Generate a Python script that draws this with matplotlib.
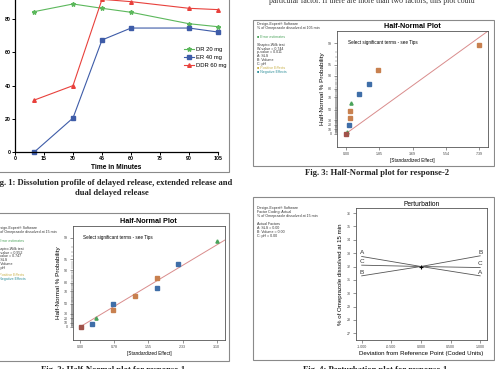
import matplotlib
matplotlib.use('Agg')
import matplotlib.pyplot as plt
from matplotlib.patches import Rectangle
from statistics import NormalDist

plt.rcParams['font.family'] = ['Liberation Sans', 'DejaVu Sans']

W, H = 495, 369

# Fig. 1 - dissolution profile
time_min = [10, 30, 45, 60, 90, 105]
dr_20 = [84.6, 89.2, 86.6, 84.2, 77.3, 75.5]
er_40 = [0.0, 20.5, 67.5, 74.7, 74.7, 72.3]
ddr_60 = [31.3, 40.0, 92.0, 90.6, 86.6, 85.8]
time_ticks = [0, 15, 30, 45, 60, 75, 90, 105]
release_ticks = [0, 20, 40, 60, 80]

# Fig. 2 - half-normal, response-1
r1_effect = [3.10, 2.23, 1.74, 1.74, 1.25, 0.755, 0.755, 0.37, 0.27, 0.015]
r1_prob = [98.7, 93.0, 84.1, 74.2, 62.7, 49.7, 36.9, 20.5, 6.9, 0.0]
r1_kind = ['err', 'neg', 'pos', 'neg', 'pos', 'neg', 'pos', 'err', 'neg', 'ref']
r1_ticks = [0.00, 0.78, 1.55, 2.33, 3.10]
r1_slope = 0.765

# Fig. 3 - half-normal, response-2
r2_effect = [7.39, 1.75, 1.25, 0.74, 0.28, 0.22, 0.22, 0.19, 0.03, 0.0]
r2_prob = [98.8, 92.9, 84.4, 73.7, 61.0, 48.9, 35.0, 20.5, 4.0, 0.0]
r2_kind = ['pos', 'pos', 'neg', 'neg', 'err', 'pos', 'pos', 'neg', 'err', 'ref']
r2_ticks = [0.00, 1.85, 3.69, 5.54, 7.39]
r2_slope = 0.371

prob_ticks = [0, 10, 20, 30, 50, 70, 80, 90, 95, 99]

# Fig. 4 - perturbation
dev = [-1.0, 0.0, 1.0]
pert_A = [32.75, 32.0, 31.3]
pert_B = [31.3, 32.0, 32.8]
pert_C = [32.1, 32.0, 31.92]
pert_ticks = [27, 28, 29, 30, 31, 32, 33, 34, 35, 36]
dev_ticks = [-1.0, -0.5, 0.0, 0.5, 1.0]

kind_style = {
    'pos': dict(marker='s', color='#c8804f'),
    'neg': dict(marker='s', color='#3f6ea8'),
    'err': dict(marker='^', color='#4aa35a'),
    'ref': dict(marker='s', color='#a0524a'),
}


def hn(p):
    # half-normal probability scale
    return NormalDist().inv_cdf(0.5 + p / 200.0)


fig = plt.figure(figsize=(W / 100, H / 100), dpi=100)
fig.patch.set_facecolor('white')


def box(l, t, r, b):
    return [l / W, 1 - b / H, (r - l) / W, (b - t) / H]


def put(x, y, s, **kw):
    kw.setdefault('va', 'center')
    fig.text(x / W, 1 - y / H, s, **kw)


def frame(l, t, r, b, ec='#8a8a8a'):
    fig.add_artist(Rectangle((l / W, 1 - b / H), (r - l) / W, (b - t) / H,
                             transform=fig.transFigure, fill=False, ec=ec, lw=0.8))


cap = dict(family=['Liberation Serif', 'DejaVu Serif'], weight='bold', fontsize=6.2,
           color='#222222', ha='center')

# ---------------- Fig. 1 ----------------
frame(-5, -5, 229, 172)
ax1 = fig.add_axes(box(15, 0, 218, 152))
ax1.plot(time_min, dr_20, color='#5cb85c', marker='*', ms=3.2, lw=0.8, label='DR 20 mg', clip_on=False)
ax1.plot(time_min, er_40, color='#3e5ca8', marker='s', ms=2.4, lw=0.8, label='ER 40 mg', clip_on=False)
ax1.plot(time_min, ddr_60, color='#e8413c', marker='^', ms=2.6, lw=0.8, label='DDR 60 mg', clip_on=False)
ax1.set_xlim(0, 105)
ax1.set_ylim(0, 91.6)
ax1.set_xticks(time_ticks)
ax1.set_yticks(release_ticks)
for s in ['top', 'right']:
    ax1.spines[s].set_visible(False)
for s in ['left', 'bottom']:
    ax1.spines[s].set_linewidth(0.9)
ax1.tick_params(labelsize=3.8, length=2, width=0.7, pad=1)
for t in ax1.get_xticklabels() + ax1.get_yticklabels():
    t.set_fontweight('bold')
ax1.set_xlabel('Time in Minutes', fontsize=4.8, fontweight='bold', labelpad=2)
ax1.legend(loc='upper left', bbox_to_anchor=(181 / W, 1 - 44 / H), bbox_transform=fig.transFigure,
           frameon=False, fontsize=4.2, handlelength=1.8, handletextpad=0.3, labelspacing=0.5,
           borderpad=0)
put(-1, 70, '% Drug Release', rotation=90, fontsize=4.5, fontweight='bold', ha='center')
put(112, 182.7, 'Fig. 1: Dissolution profile of delayed release, extended release and', **cap)
put(112, 192.7, 'dual delayed release', **cap)

# top page text
put(372, 3, 'particular factor. If there are more than two factors, this plot could',
    family=['Liberation Serif', 'DejaVu Serif'], fontsize=5.6, ha='center', va='baseline',
    color='#333333')


def half_normal(axbox, effect, prob, kind, ticks, slope, xlim):
    ax = fig.add_axes(axbox)
    zmin, zmax = -0.38, 2.93
    ax.set_xlim(*xlim)
    ax.set_ylim(zmin, zmax)
    ax.plot([0, xlim[1]], [0, slope * xlim[1]], color='#d98c8c', lw=0.7)
    for e, p, k in zip(effect, prob, kind):
        st = kind_style[k]
        ax.plot(e, hn(p), ls='none', marker=st['marker'], color=st['color'], ms=2.3,
                mec=st['color'])
    ax.set_xticks(ticks)
    ax.set_xticklabels(['%.2f' % t for t in ticks])
    ax.set_yticks([hn(p) for p in prob_ticks])
    ax.set_yticklabels([str(p) for p in prob_ticks])
    ax.set_yticks([hn(p) for p in range(1, 99) if p not in prob_ticks], minor=True)
    ax.tick_params(labelsize=2.6, length=2.2, width=0.4, pad=1.5, colors='#444444')
    ax.tick_params(axis='y', which='minor', length=1.4, width=0.3, colors='#666666')
    for s in ax.spines.values():
        s.set_linewidth(0.6)
        s.set_color('#555555')
    ax.set_xlabel('[Standardized Effect]', fontsize=3.4, labelpad=1.5)
    ax.set_ylabel('Half-Normal % Probability', fontsize=4.6, labelpad=2)
    ax.set_title('Half-Normal Plot', fontsize=5.2, fontweight='bold', pad=1.8)
    ax.text(0.07, 0.9, 'Select significant terms - see Tips', transform=ax.transAxes,
            fontsize=3.3, va='center')
    return ax


def legend_lines(x, rows, fs=2.6):
    for y, s, c in rows:
        put(x, y, s, fontsize=fs, color=c, ha='left')


# ---------------- Fig. 3 (top right) ----------------
frame(253.3, 20, 494, 165.7)
half_normal(box(337.3, 30.7, 488, 147), r2_effect, r2_prob, r2_kind, r2_ticks, r2_slope,
            (-0.48, 7.87))
legend_lines(257.3, [
    (24.3, 'Design-Expert\u00ae Software', '#333333'),
    (27.5, '% of Omeprazole dissolved at 105 min', '#333333'),
    (36.7, '\u25a0 Error estimates', '#4aa35a'),
    (45.0, 'Shapiro-Wilk test', '#333333'),
    (48.8, 'W-value = 0.744', '#333333'),
    (52.5, 'p-value = 0.011', '#333333'),
    (56.2, 'A: SLS', '#333333'),
    (59.9, 'B: Volume', '#333333'),
    (63.6, 'C: pH', '#333333'),
    (67.6, '\u25a0 Positive Effects', '#c9b046'),
    (71.6, '\u25a0 Negative Effects', '#2f8f9a'),
])
put(376.7, 173.5, 'Fig. 3: Half-Normal plot for response-2', **cap)

# ---------------- Fig. 2 (bottom left) ----------------
frame(-5, 213, 229, 361)
half_normal(box(72.7, 225.7, 225, 340), r1_effect, r1_prob, r1_kind, r1_ticks, r1_slope,
            (-0.166, 3.29))
legend_lines(-4, [
    (228.3, 'Design-Expert\u00ae Software', '#333333'),
    (232.1, '% of Omeprazole dissolved at 15 min', '#333333'),
    (240.7, '\u25a0 Error estimates', '#4aa35a'),
    (249.0, 'Shapiro-Wilk test', '#333333'),
    (252.8, 'W-value = 0.952', '#333333'),
    (256.5, 'p-value = 0.747', '#333333'),
    (260.2, 'A: SLS', '#333333'),
    (263.9, 'B: Volume', '#333333'),
    (267.6, 'C: pH', '#333333'),
    (274.8, '\u25a0 Positive Effects', '#c9b046'),
    (278.8, '\u25a0 Negative Effects', '#2f8f9a'),
])
put(113, 365.5, 'Fig. 2: Half-Normal plot for response-1', **dict(cap, va='top'))

# ---------------- Fig. 4 (bottom right) ----------------
frame(253.3, 196.7, 494, 360)
ax4 = fig.add_axes(box(356, 207.7, 487.3, 340))
for name, vals in [('A', pert_A), ('B', pert_B), ('C', pert_C)]:
    ax4.plot(dev, vals, color='#555555', lw=0.6)
    ax4.text(dev[0], vals[0] + 0.08, name, fontsize=4.6, ha='center', va='bottom', color='#333333')
    ax4.text(dev[-1], vals[-1] + 0.08, name, fontsize=4.6, ha='center', va='bottom', color='#333333')
ax4.plot(dev[1], pert_A[1], marker='+', color='black', ms=2.5, mew=0.8)
ax4.set_xlim(-1.096, 1.12)
ax4.set_ylim(26.5, 36.4)
ax4.set_xticks(dev_ticks)
ax4.set_xticklabels(['%.3f' % t for t in dev_ticks])
ax4.set_yticks(pert_ticks)
ax4.tick_params(labelsize=2.6, length=2.2, width=0.4, pad=1.5, colors='#444444')
for s in ax4.spines.values():
    s.set_linewidth(0.6)
    s.set_color('#555555')
ax4.set_title('Perturbation', fontsize=4.8, pad=1.5)
ax4.set_xlabel('Deviation from Reference Point (Coded Units)', fontsize=4.4, labelpad=1.5)
ax4.set_ylabel('% of Omeprazole dissolved at 15 min', fontsize=4.4, labelpad=3)
legend_lines(257.3, [
    (207.7, 'Design-Expert\u00ae Software', '#333333'),
    (211.7, 'Factor Coding: Actual', '#333333'),
    (215.7, '% of Omeprazole dissolved at 15 min', '#333333'),
    (224.3, 'Actual Factors', '#333333'),
    (228.3, 'A: SLS = 0.00', '#333333'),
    (232.2, 'B: Volume = 0.00', '#333333'),
    (236.0, 'C: pH = 0.00', '#333333'),
])
put(375, 365.5, 'Fig. 4: Perturbation plot for response-1', **dict(cap, va='top'))

fig.savefig('out.png', dpi=100, facecolor='white')
